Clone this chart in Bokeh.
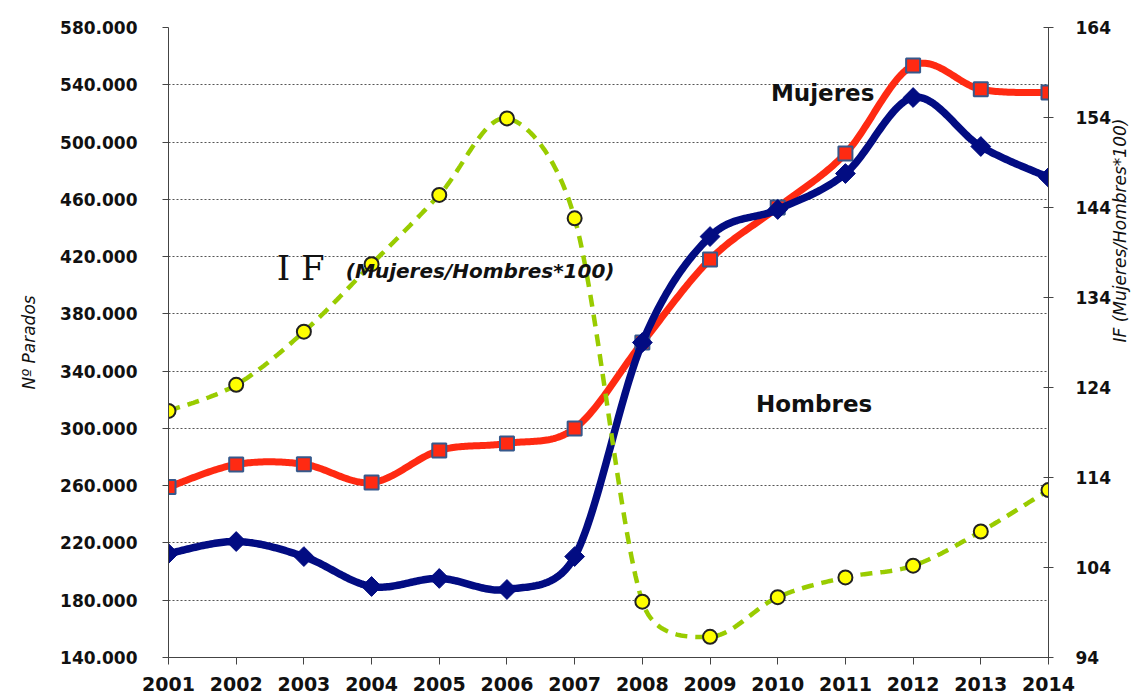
import numpy as np
from bokeh.plotting import figure
from bokeh.models import (LinearAxis, Range1d, FixedTicker, CustomJSTickFormatter,
                          ColumnDataSource, Label)
from bokeh.embed import file_html
from bokeh.resources import INLINE

# ---- data ----
years = [2001, 2002, 2003, 2004, 2005, 2006, 2007, 2008, 2009, 2010, 2011, 2012, 2013, 2014]
mujeres = [259000, 274800, 275000, 262200, 284600, 289500, 300000, 360000, 418000, 454300,
           492000, 553500, 536800, 534600]
hombres = [212600, 221000, 210500, 189600, 195200, 187500, 210500, 360000, 434000, 452900,
           478000, 531100, 496900, 475300]
indice_f = [121.4, 124.3, 130.2, 137.7, 145.4, 153.9, 142.8, 100.2, 96.3, 100.7, 102.9, 104.2,
            108.0, 112.6]
left_ticks = [140000, 180000, 220000, 260000, 300000, 340000, 380000, 420000, 460000,
              500000, 540000, 580000]
right_ticks = [94, 104, 114, 124, 134, 144, 154, 164]

FRAME_W, FRAME_H = 880, 630
X0, X1 = 2001, 2014
YL0, YL1 = 140000, 580000
YR0, YR1 = 94, 164


def smooth(xs, ys, sx, sy, n=40):
    """Excel-style smoothed line: Bezier segments, tangents limited to half segment."""
    P = np.column_stack([np.asarray(xs, float) * sx, np.asarray(ys, float) * sy])
    m = len(P)
    ext = np.vstack([P[0], P, P[-1]])
    t = np.linspace(0, 1, n)[:, None]
    out = []
    for i in range(m - 1):
        p0, p1, p2, p3 = ext[i], ext[i + 1], ext[i + 2], ext[i + 3]
        d12 = np.linalg.norm(p2 - p1)
        d02 = np.linalg.norm(p2 - p0)
        d13 = np.linalg.norm(p3 - p1)
        f0 = 1 / 6 if d02 / 6 < d12 / 2 else (d12 / 2) / d02
        f1 = 1 / 6 if d13 / 6 < d12 / 2 else (d12 / 2) / d13
        c1 = p1 + (p2 - p0) * f0
        c2 = p2 - (p3 - p1) * f1
        b = (1 - t) ** 3 * p1 + 3 * (1 - t) ** 2 * t * c1 + 3 * (1 - t) * t ** 2 * c2 + t ** 3 * p2
        if i > 0:
            b = b[1:]
        out.append(b)
    out = np.vstack(out)
    return list(out[:, 0] / sx), list(out[:, 1] / sy)


FONT = "DejaVu Sans"

p = figure(width=1135, height=697, frame_width=FRAME_W, frame_height=FRAME_H,
           x_range=Range1d(X0, X1), y_range=Range1d(YL0, YL1),
           output_backend="svg", toolbar_location=None,
           min_border_left=168, min_border_right=87, min_border_top=27, min_border_bottom=40)
p.extra_y_ranges = {"if": Range1d(YR0, YR1)}
p.outline_line_color = None
p.background_fill_color = "white"
p.border_fill_color = "white"

# grid
p.xgrid.grid_line_color = None
p.ygrid.grid_line_color = "#555555"
p.ygrid.grid_line_dash = "2 2"
p.ygrid.grid_line_width = 1

# x axis
xa = p.xaxis[0]
xa.ticker = FixedTicker(ticks=years)
xa.major_label_text_font = FONT
xa.major_label_text_font_style = "bold"
xa.major_label_text_font_size = "19px"
xa.major_label_text_color = "#111111"
xa.major_tick_in = 0
xa.major_tick_out = 7
xa.minor_tick_line_color = None
xa.major_label_standoff = 12
xa.axis_line_color = "#444444"
xa.major_tick_line_color = "#444444"

# left axis
ya = p.yaxis[0]
ya.ticker = FixedTicker(ticks=left_ticks)
ya.formatter = CustomJSTickFormatter(
    code="return Math.round(tick).toString().replace(/\\B(?=(\\d{3})+(?!\\d))/g, '.');")
ya.major_label_text_font = FONT
ya.major_label_text_font_style = "bold"
ya.major_label_text_font_size = "17px"
ya.major_label_text_color = "#111111"
ya.major_tick_in = 0
ya.major_tick_out = 6
ya.minor_tick_line_color = None
ya.major_label_standoff = 25
ya.axis_line_color = "#444444"
ya.major_tick_line_color = "#444444"
ya.axis_label = "Nº Parados"
ya.axis_label_text_font = FONT
ya.axis_label_text_font_style = "italic"
ya.axis_label_text_font_size = "17px"
ya.axis_label_text_color = "#111111"
ya.axis_label_standoff = 18

# right axis
ra = LinearAxis(y_range_name="if", ticker=FixedTicker(ticks=right_ticks))
ra.major_label_text_font = FONT
ra.major_label_text_font_style = "bold"
ra.major_label_text_font_size = "17px"
ra.major_label_text_color = "#111111"
ra.major_tick_in = 5
ra.major_tick_out = 5
ra.minor_tick_line_color = None
ra.major_label_standoff = 22
ra.axis_line_color = "#444444"
ra.major_tick_line_color = "#444444"
ra.axis_label = "IF (Mujeres/Hombres*100)"
ra.axis_label_orientation = np.pi / 2
ra.axis_label_text_font = FONT
ra.axis_label_text_font_style = "italic"
ra.axis_label_text_font_size = "17px"
ra.axis_label_text_color = "#111111"
ra.axis_label_standoff = 6
p.add_layout(ra, "right")

# ---- series ----
sx = FRAME_W / (X1 - X0)
syl = FRAME_H / (YL1 - YL0)
syr = FRAME_H / (YR1 - YR0)
mx, my = smooth(years, mujeres, sx, syl)
hx, hy = smooth(years, hombres, sx, syl)
fx, fy = smooth(years, indice_f, sx, syr)

src_m = ColumnDataSource(dict(x=years, y=mujeres))
src_h = ColumnDataSource(dict(x=years, y=hombres))
src_f = ColumnDataSource(dict(x=years, y=indice_f))

p.line(mx, my, line_color="#ff2a12", line_width=7, line_join="round", line_cap="round")
p.scatter("x", "y", source=src_m, marker="square", size=14, fill_color="#ff2a12",
          line_color="#36598c", line_width=2)

p.line(hx, hy, line_color="#020c82", line_width=7.5, line_join="round", line_cap="round")
p.scatter("x", "y", source=src_h, marker="square", angle=np.pi / 4, size=14,
          fill_color="#020c82", line_color="#020c82", line_width=1)

p.line(fx, fy, y_range_name="if", line_color="#99cc00", line_width=4.5, line_dash="12 8")
p.scatter("x", "y", source=src_f, y_range_name="if", marker="circle", size=14,
          fill_color="#ffff00", line_color="#222222", line_width=2)

# ---- annotations ----
p.add_layout(Label(x=2009.90, y=534600, text="Mujeres", text_font=FONT, text_font_style="bold",
                   text_font_size="23px", text_color="#111111", text_baseline="alphabetic"))
p.add_layout(Label(x=2009.68, y=316700, text="Hombres", text_font=FONT, text_font_style="bold",
                   text_font_size="23px", text_color="#111111", text_baseline="alphabetic"))
p.add_layout(Label(x=2002.60, y=411700, text="I F", text_font="DejaVu Serif",
                   text_font_style="normal", text_font_size="34px", text_color="#111111",
                   text_baseline="alphabetic"))
p.add_layout(Label(x=2003.62, y=409600, text="(Mujeres/Hombres*100)", text_font=FONT,
                   text_font_style="bold italic", text_font_size="20px", text_color="#111111",
                   text_baseline="alphabetic"))

open("out.html", "w").write(file_html(p, INLINE))
